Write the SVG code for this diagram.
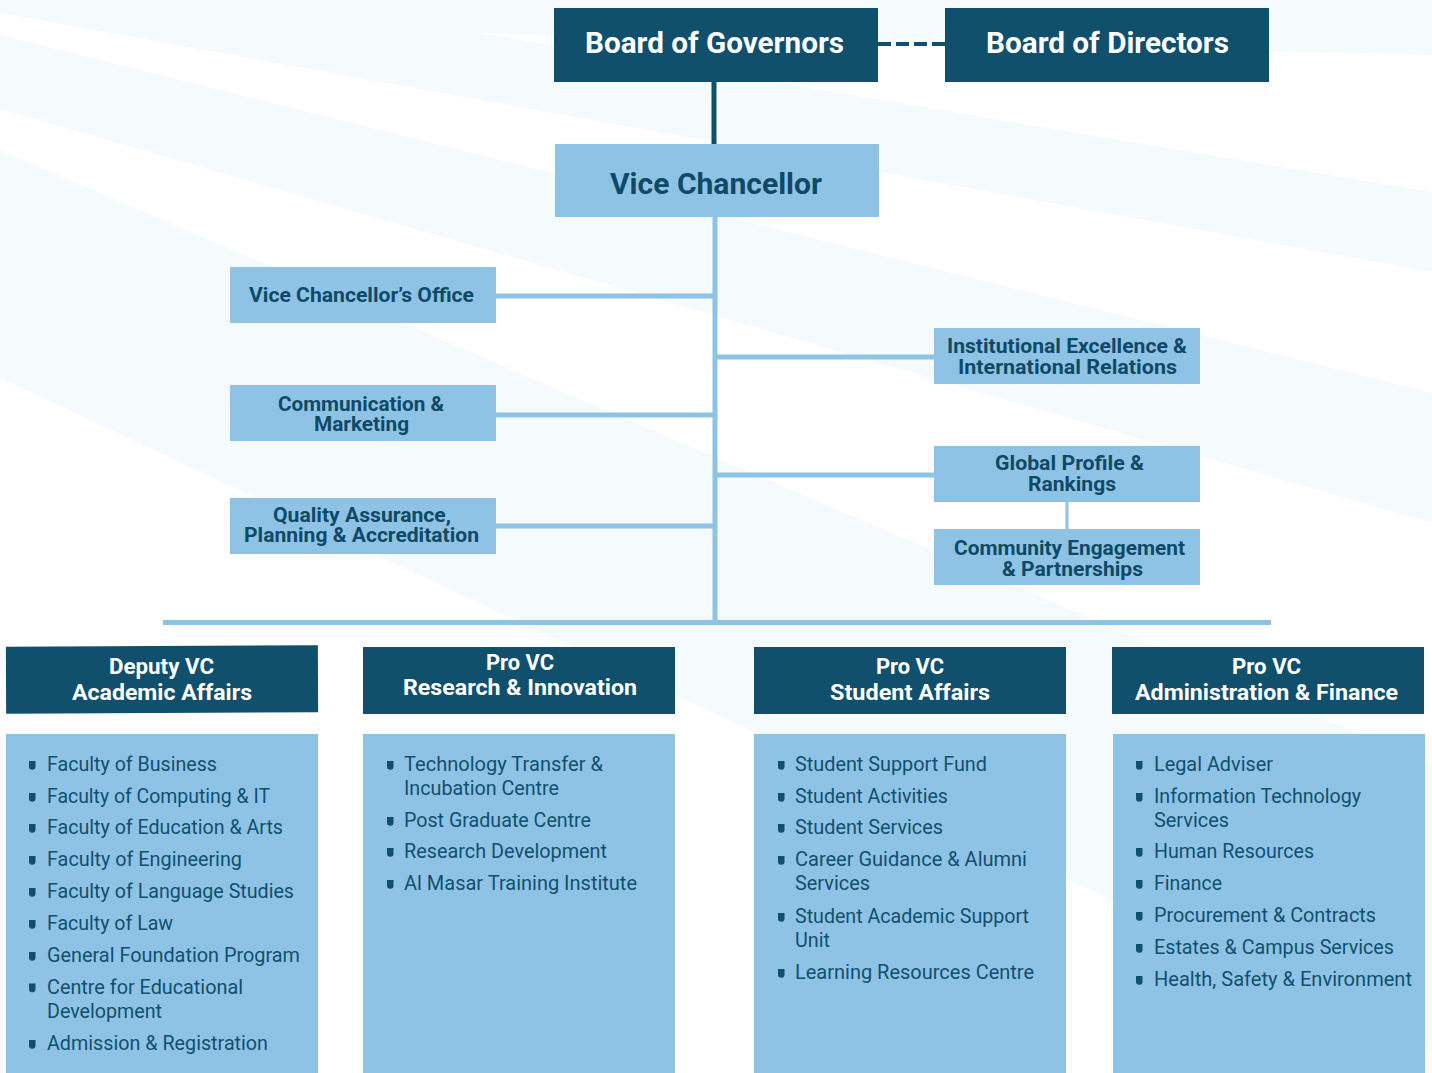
<svg xmlns="http://www.w3.org/2000/svg" width="1432" height="1073" viewBox="0 0 1432 1073">
<defs>
<style>
.bg{fill:#f5fbfd}
.dark{fill:#10506d}
.light{fill:#8ec3e6}
.t-top{font-family:Roboto,"Liberation Sans",sans-serif;font-weight:700;font-size:29px;fill:#ffffff;text-anchor:middle}
.t-vc{font-family:Roboto,"Liberation Sans",sans-serif;font-weight:700;font-size:29px;fill:#0e4a66;text-anchor:middle}
.t-box{font-family:Roboto,"Liberation Sans",sans-serif;font-weight:700;font-size:20px;fill:#0e4a66;text-anchor:middle}
.t-head{font-family:Roboto,"Liberation Sans",sans-serif;font-weight:700;font-size:22px;fill:#ffffff;text-anchor:middle}
.t-item{font-family:Roboto,"Liberation Sans",sans-serif;font-weight:400;font-size:20px;fill:#11506e}
.ln{stroke:#8ec3e6;stroke-width:5;fill:none}
</style>
<path id="bul" d="M0,0 h6.5 v5.5 a3.25,3.25 0 0 1 -6.5,0 z" fill="#10506d"/>
</defs>
<rect width="1432" height="1073" fill="#ffffff"/>
<g id="background">
<polygon class="bg" points="0,0 1432,0 1432,55 480,33 1432,192 1432,272 0,13"/>
<polygon class="bg" points="0,35 1432,393 1432,523 0,109"/>
<polygon class="bg" points="0,150 1432,765 1432,1051 0,378"/>
</g>
<g id="connectors">
<line x1="878" y1="44" x2="945" y2="44" stroke="#10506d" stroke-width="4" stroke-dasharray="13 5"/>
<line x1="714" y1="82" x2="714" y2="144" stroke="#10506d" stroke-width="5"/>
<line class="ln" x1="715" y1="217" x2="715" y2="625"/>
<line class="ln" x1="496" y1="296" x2="715" y2="296"/>
<line class="ln" x1="496" y1="415" x2="715" y2="415"/>
<line class="ln" x1="496" y1="526" x2="715" y2="526"/>
<line class="ln" x1="715" y1="357" x2="934" y2="357"/>
<line class="ln" x1="715" y1="475" x2="934" y2="475"/>
<line x1="1067" y1="502" x2="1067" y2="529" stroke="#8ec3e6" stroke-width="3"/>
<line class="ln" x1="163" y1="622.5" x2="1271" y2="622.5"/>
</g>
<g id="board-governors">
<rect class="dark" x="554" y="8" width="324" height="74"/>
<text class="t-top" x="714.5" y="53" textLength="259" lengthAdjust="spacingAndGlyphs">Board of Governors</text>
</g>
<g id="board-directors">
<rect class="dark" x="945" y="8" width="324" height="74"/>
<text class="t-top" x="1107.5" y="53" textLength="243" lengthAdjust="spacingAndGlyphs">Board of Directors</text>
</g>
<g id="vice-chancellor">
<rect class="light" x="555" y="144" width="324" height="73"/>
<text class="t-vc" x="716" y="194" textLength="212" lengthAdjust="spacingAndGlyphs">Vice Chancellor</text>
</g>
<g id="vc-office">
<rect class="light" x="230" y="267" width="266" height="56"/>
<text class="t-box" x="361.5" y="302" textLength="225" lengthAdjust="spacingAndGlyphs">Vice Chancellor’s Office</text>
</g>
<g id="communication">
<rect class="light" x="230" y="385" width="266" height="56"/>
<text class="t-box" x="361" y="411" textLength="166" lengthAdjust="spacingAndGlyphs">Communication &amp;</text>
<text class="t-box" x="361.5" y="431" textLength="95" lengthAdjust="spacingAndGlyphs">Marketing</text>
</g>
<g id="quality">
<rect class="light" x="230" y="498" width="266" height="56"/>
<text class="t-box" x="362" y="522" textLength="178" lengthAdjust="spacingAndGlyphs">Quality Assurance,</text>
<text class="t-box" x="361.5" y="542" textLength="235" lengthAdjust="spacingAndGlyphs">Planning &amp; Accreditation</text>
</g>
<g id="institutional">
<rect class="light" x="934" y="328" width="266" height="56"/>
<text class="t-box" x="1067" y="353" textLength="240" lengthAdjust="spacingAndGlyphs">Institutional Excellence &amp;</text>
<text class="t-box" x="1067.5" y="374" textLength="219" lengthAdjust="spacingAndGlyphs">International Relations</text>
</g>
<g id="global-profile">
<rect class="light" x="934" y="446" width="266" height="56"/>
<text class="t-box" x="1069.5" y="470" textLength="149" lengthAdjust="spacingAndGlyphs">Global Profile &amp;</text>
<text class="t-box" x="1072" y="491" textLength="88" lengthAdjust="spacingAndGlyphs">Rankings</text>
</g>
<g id="community">
<rect class="light" x="934" y="529" width="266" height="56"/>
<text class="t-box" x="1069.5" y="555" textLength="231" lengthAdjust="spacingAndGlyphs">Community Engagement</text>
<text class="t-box" x="1072.5" y="576" textLength="141" lengthAdjust="spacingAndGlyphs">&amp; Partnerships</text>
</g>
<g id="deputy-vc">
<rect class="dark" x="6" y="646" width="312" height="67" transform="rotate(-0.25 162 680)"/>
<text class="t-head" x="161.5" y="674" textLength="105" lengthAdjust="spacingAndGlyphs">Deputy VC</text>
<text class="t-head" x="162" y="700" textLength="180" lengthAdjust="spacingAndGlyphs">Academic Affairs</text>
<rect class="light" x="6" y="734" width="312" height="339"/>
<g class="t-item">
<use href="#bul" x="29" y="761"/><text x="47" y="771" textLength="170" lengthAdjust="spacingAndGlyphs">Faculty of Business</text>
<use href="#bul" x="29" y="793"/><text x="47" y="803" textLength="223" lengthAdjust="spacingAndGlyphs">Faculty of Computing &amp; IT</text>
<use href="#bul" x="29" y="824"/><text x="47" y="834" textLength="236" lengthAdjust="spacingAndGlyphs">Faculty of Education &amp; Arts</text>
<use href="#bul" x="29" y="856"/><text x="47" y="866" textLength="195" lengthAdjust="spacingAndGlyphs">Faculty of Engineering</text>
<use href="#bul" x="29" y="888"/><text x="47" y="898" textLength="247" lengthAdjust="spacingAndGlyphs">Faculty of Language Studies</text>
<use href="#bul" x="29" y="920"/><text x="47" y="930" textLength="126" lengthAdjust="spacingAndGlyphs">Faculty of Law</text>
<use href="#bul" x="29" y="952"/><text x="47" y="962" textLength="253" lengthAdjust="spacingAndGlyphs">General Foundation Program</text>
<use href="#bul" x="29" y="983.5"/><text x="47" y="993.5" textLength="196" lengthAdjust="spacingAndGlyphs">Centre for Educational</text>
<text x="47" y="1018" textLength="115" lengthAdjust="spacingAndGlyphs">Development</text>
<use href="#bul" x="29" y="1040"/><text x="47" y="1050" textLength="221" lengthAdjust="spacingAndGlyphs">Admission &amp; Registration</text>
</g>
</g>
<g id="pro-vc-research">
<rect class="dark" x="363" y="647" width="312" height="67"/>
<text class="t-head" x="520" y="670" textLength="68" lengthAdjust="spacingAndGlyphs">Pro VC</text>
<text class="t-head" x="520" y="695" textLength="234" lengthAdjust="spacingAndGlyphs">Research &amp; Innovation</text>
<rect class="light" x="363" y="734" width="312" height="339"/>
<g class="t-item">
<use href="#bul" x="387" y="761"/><text x="404" y="771" textLength="199" lengthAdjust="spacingAndGlyphs">Technology Transfer &amp;</text>
<text x="404" y="795" textLength="155" lengthAdjust="spacingAndGlyphs">Incubation Centre</text>
<use href="#bul" x="387" y="817"/><text x="404" y="827" textLength="187" lengthAdjust="spacingAndGlyphs">Post Graduate Centre</text>
<use href="#bul" x="387" y="848"/><text x="404" y="858" textLength="203" lengthAdjust="spacingAndGlyphs">Research Development</text>
<use href="#bul" x="387" y="880"/><text x="404" y="890" textLength="233" lengthAdjust="spacingAndGlyphs">Al Masar Training Institute</text>
</g>
</g>
<g id="pro-vc-student">
<rect class="dark" x="754" y="647" width="312" height="67"/>
<text class="t-head" x="910" y="674" textLength="68" lengthAdjust="spacingAndGlyphs">Pro VC</text>
<text class="t-head" x="910" y="700" textLength="160" lengthAdjust="spacingAndGlyphs">Student Affairs</text>
<rect class="light" x="754" y="734" width="312" height="339"/>
<g class="t-item">
<use href="#bul" x="778" y="761"/><text x="795" y="771" textLength="192" lengthAdjust="spacingAndGlyphs">Student Support Fund</text>
<use href="#bul" x="778" y="793"/><text x="795" y="803" textLength="153" lengthAdjust="spacingAndGlyphs">Student Activities</text>
<use href="#bul" x="778" y="824"/><text x="795" y="834" textLength="148" lengthAdjust="spacingAndGlyphs">Student Services</text>
<use href="#bul" x="778" y="856"/><text x="795" y="866" textLength="232" lengthAdjust="spacingAndGlyphs">Career Guidance &amp; Alumni</text>
<text x="795" y="890" textLength="75" lengthAdjust="spacingAndGlyphs">Services</text>
<use href="#bul" x="778" y="913"/><text x="795" y="923" textLength="234" lengthAdjust="spacingAndGlyphs">Student Academic Support</text>
<text x="795" y="947" textLength="35" lengthAdjust="spacingAndGlyphs">Unit</text>
<use href="#bul" x="778" y="969"/><text x="795" y="979" textLength="239" lengthAdjust="spacingAndGlyphs">Learning Resources Centre</text>
</g>
</g>
<g id="pro-vc-admin">
<rect class="dark" x="1112" y="647" width="312" height="67"/>
<text class="t-head" x="1266.5" y="674" textLength="69" lengthAdjust="spacingAndGlyphs">Pro VC</text>
<text class="t-head" x="1266.5" y="700" textLength="263" lengthAdjust="spacingAndGlyphs">Administration &amp; Finance</text>
<rect class="light" x="1113" y="734" width="312" height="339"/>
<g class="t-item">
<use href="#bul" x="1136" y="761"/><text x="1154" y="771" textLength="119" lengthAdjust="spacingAndGlyphs">Legal Adviser</text>
<use href="#bul" x="1136" y="793"/><text x="1154" y="803" textLength="207" lengthAdjust="spacingAndGlyphs">Information Technology</text>
<text x="1154" y="827" textLength="75" lengthAdjust="spacingAndGlyphs">Services</text>
<use href="#bul" x="1136" y="848"/><text x="1154" y="858" textLength="160" lengthAdjust="spacingAndGlyphs">Human Resources</text>
<use href="#bul" x="1136" y="880"/><text x="1154" y="890" textLength="68" lengthAdjust="spacingAndGlyphs">Finance</text>
<use href="#bul" x="1136" y="912"/><text x="1154" y="922" textLength="222" lengthAdjust="spacingAndGlyphs">Procurement &amp; Contracts</text>
<use href="#bul" x="1136" y="944"/><text x="1154" y="954" textLength="240" lengthAdjust="spacingAndGlyphs">Estates &amp; Campus Services</text>
<use href="#bul" x="1136" y="976"/><text x="1154" y="986" textLength="258" lengthAdjust="spacingAndGlyphs">Health, Safety &amp; Environment</text>
</g>
</g>
</svg>
